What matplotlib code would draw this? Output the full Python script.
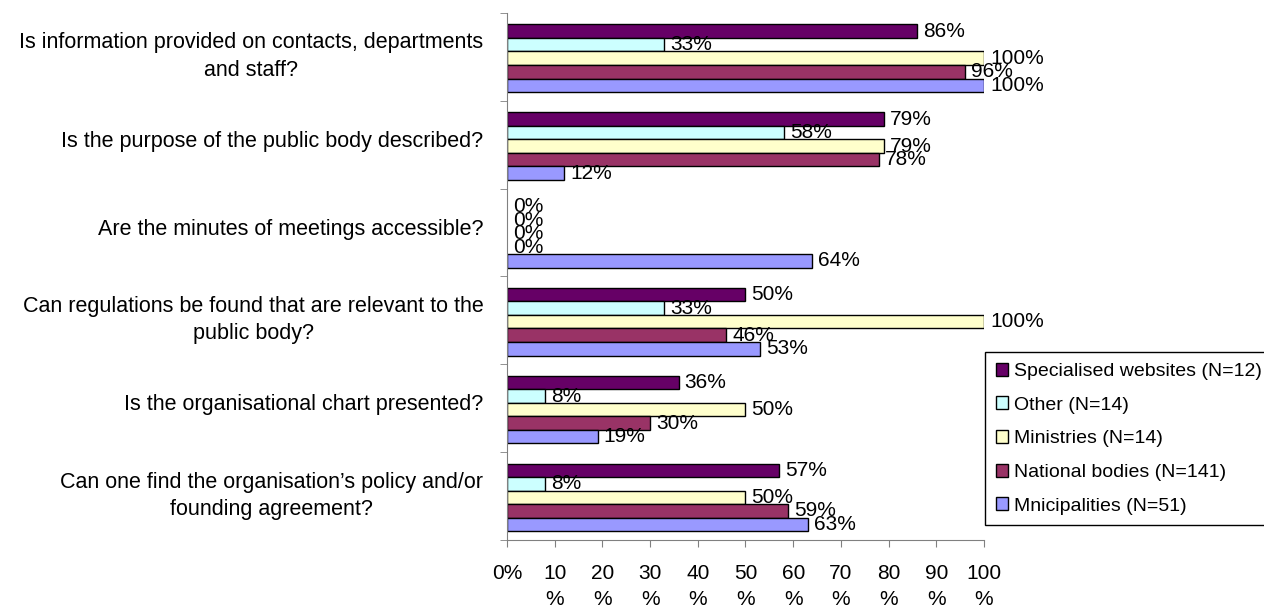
import numpy as np
import matplotlib
matplotlib.use('Agg')
import matplotlib.pyplot as plt
import matplotlib.transforms as mtransforms
from matplotlib.ticker import FixedLocator

plt.rcParams['font.family'] = ['Liberation Sans', 'DejaVu Sans']

# Questions, top to bottom
questions = [
    'Is information provided on contacts, departments\nand staff?',
    'Is the purpose of the public body described?',
    'Are the minutes of meetings accessible?',
    'Can regulations be found that are relevant to the\npublic body?',
    'Is the organisational chart presented?',
    'Can one find the organisation\u2019s policy and/or\nfounding agreement?',
]

series_names = [
    'Specialised websites (N=12)',
    'Other (N=14)',
    'Ministries (N=14)',
    'National bodies (N=141)',
    'Mnicipalities (N=51)',
]
series_colors = ['#660066', '#CCFFFF', '#FFFFCC', '#993366', '#9999FF']

# Share of websites (%) per question
specialised = [86, 79, 0, 50, 36, 57]
other = [33, 58, 0, 33, 8, 8]
ministries = [100, 79, 0, 100, 50, 50]
national = [96, 78, 0, 46, 30, 59]
municipalities = [100, 12, 64, 53, 19, 63]
values = [specialised, other, ministries, national, municipalities]

x_ticks = [0, 10, 20, 30, 40, 50, 60, 70, 80, 90, 100]
x_ticklabels = ['0%'] + ['%d\n%%' % t for t in x_ticks[1:]]

fig = plt.figure(figsize=(12.64, 6.10), dpi=100)
ax = fig.add_axes([507 / 1264, 1 - 540 / 610, 477 / 1264, 527 / 610])

n = len(questions)
ypos = np.arange(n)
h = 0.154
fs = 15

for i, (name, vals, col) in enumerate(zip(series_names, values, series_colors)):
    y = ypos + (i - 2) * h + 0.015
    lw = [1.0 if v > 0 else 0 for v in vals]
    ax.barh(y, vals, height=h, color=col, edgecolor='black', linewidth=lw, label=name)
    for yy, v in zip(y, vals):
        ax.annotate('%d%%' % v, (v, yy), xytext=(6, 0), textcoords='offset pixels',
                    va='center', ha='left', fontsize=fs)

ax.set_xlim(0, 100)
ax.set_ylim(n - 0.5, -0.5)

ax.set_xticks(x_ticks)
ax.set_xticklabels(x_ticklabels, fontsize=fs, va='top', linespacing=1.5)
ax.tick_params(axis='x', length=5, color='#808080', pad=12)

ax.set_yticks(ypos)
ax.set_yticklabels(questions, fontsize=15.5, ha='right', multialignment='center',
                   linespacing=1.4)
ax.tick_params(axis='y', which='major', length=0, pad=17)
# nudge question labels up a little
shift = mtransforms.ScaledTranslation(0, 0.06, fig.dpi_scale_trans)
for lbl in ax.get_yticklabels():
    lbl.set_transform(lbl.get_transform() + shift)
ax.yaxis.set_minor_locator(FixedLocator(np.arange(n + 1) - 0.5))
ax.tick_params(axis='y', which='minor', length=5, color='#808080')

for s in ['top', 'right']:
    ax.spines[s].set_visible(False)
for s in ['left', 'bottom']:
    ax.spines[s].set_color('#808080')

leg = ax.legend(loc='upper left', bbox_to_anchor=(985 / 1264, 1 - 352 / 610),
                bbox_transform=fig.transFigure, borderaxespad=0, fontsize=14,
                frameon=True, fancybox=False, edgecolor='black', framealpha=1,
                handlelength=0.65, handleheight=0.65, handletextpad=0.3,
                labelspacing=0.84, borderpad=0.55)
leg.get_frame().set_linewidth(1.0)

fig.savefig('out.png', dpi=100)
